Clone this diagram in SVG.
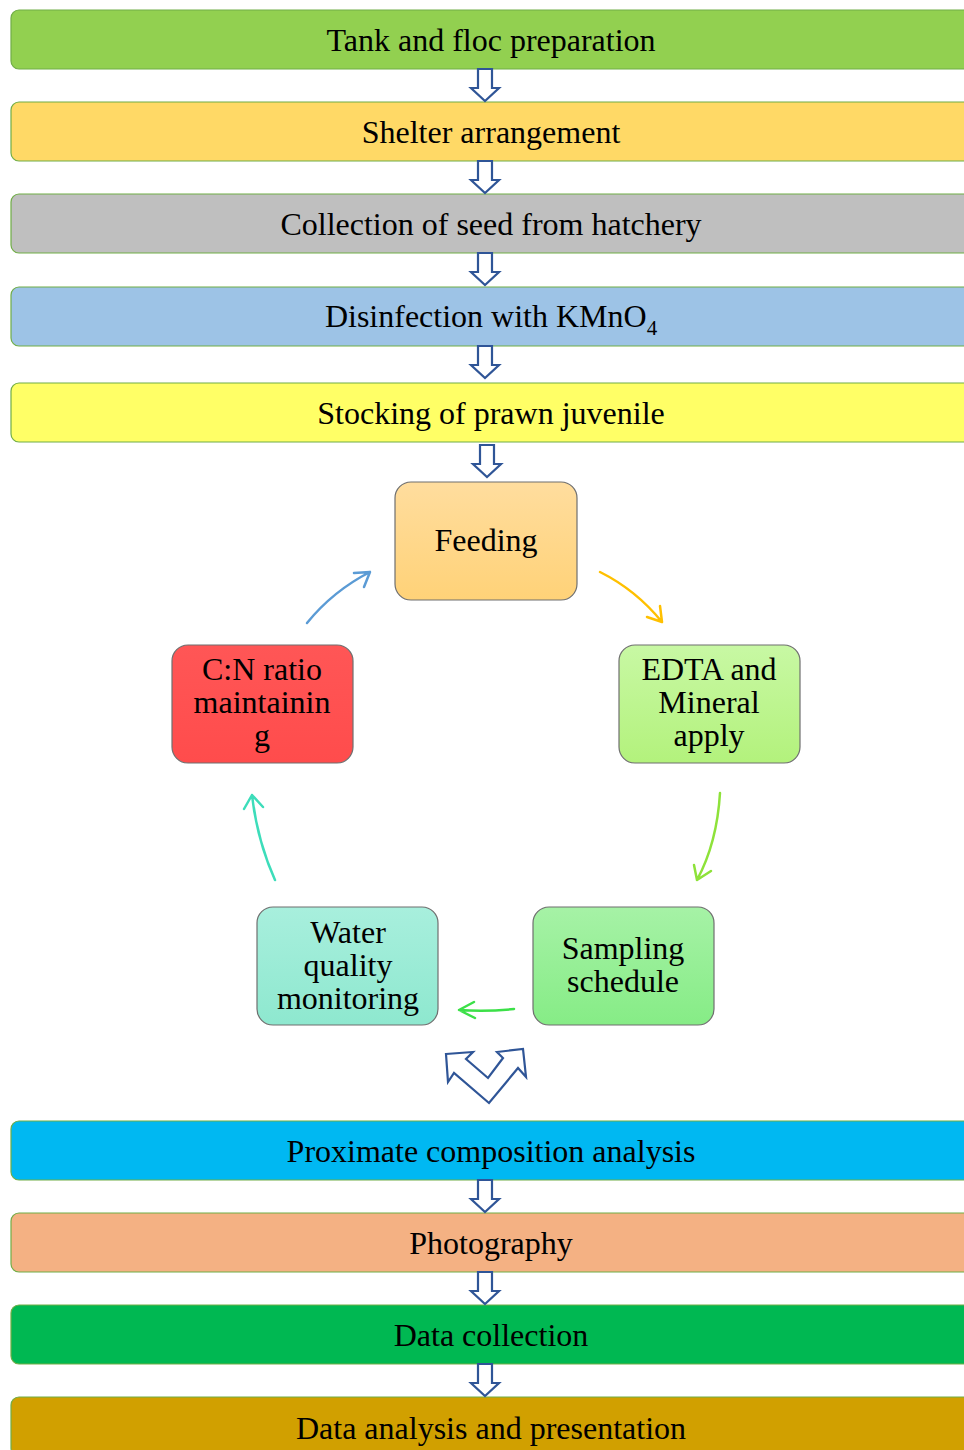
<svg xmlns="http://www.w3.org/2000/svg" width="964" height="1450" viewBox="0 0 964 1450">
<defs>
<style>
.bar{stroke:#70AD47;stroke-width:1.2}
.t{font-family:"Liberation Serif","Times New Roman",serif;font-size:32px;fill:#000;text-anchor:middle}
.box{stroke:#6f6f6f;stroke-width:1.2}
.da{fill:#fff;stroke:#2F5597;stroke-width:2.2;stroke-linejoin:miter}
.cv{fill:none;stroke-width:2.5;stroke-linecap:round;stroke-linejoin:round}
</style>
<linearGradient id="gFeed" x1="0" y1="0" x2="0" y2="1"><stop offset="0" stop-color="#FFDD9E"/><stop offset="1" stop-color="#FFD278"/></linearGradient>
<linearGradient id="gCN" x1="0" y1="0" x2="0" y2="1"><stop offset="0" stop-color="#FF5656"/><stop offset="1" stop-color="#FF4C4C"/></linearGradient>
<linearGradient id="gEDTA" x1="0" y1="0" x2="0" y2="1"><stop offset="0" stop-color="#C8F8A4"/><stop offset="1" stop-color="#B3F27C"/></linearGradient>
<linearGradient id="gWater" x1="0" y1="0" x2="0" y2="1"><stop offset="0" stop-color="#A8EFDD"/><stop offset="1" stop-color="#8EE8CF"/></linearGradient>
<linearGradient id="gSamp" x1="0" y1="0" x2="0" y2="1"><stop offset="0" stop-color="#A6F2A6"/><stop offset="1" stop-color="#86EC86"/></linearGradient>
<path id="dn" d="M-7,0 H7 V19 H14 L0,32 L-14,19 H-7 Z"/>
</defs>

<g id="bar1"><rect class="bar" x="11" y="10" width="970" height="59" rx="8" fill="#92D050"/><text class="t" x="491" y="51">Tank and floc preparation</text></g>
<g id="bar2"><rect class="bar" x="11" y="102" width="970" height="59" rx="8" fill="#FFD966"/><text class="t" x="491" y="143">Shelter arrangement</text></g>
<g id="bar3"><rect class="bar" x="11" y="194" width="970" height="59" rx="8" fill="#BFBFBF"/><text class="t" x="491" y="235">Collection of seed from hatchery</text></g>
<g id="bar4"><rect class="bar" x="11" y="287" width="970" height="59" rx="8" fill="#9DC3E6"/><text class="t" x="491" y="327">Disinfection with KMnO<tspan font-size="21" dy="8">4</tspan></text></g>
<g id="bar5"><rect class="bar" x="11" y="383" width="970" height="59" rx="8" fill="#FFFF66"/><text class="t" x="491" y="424">Stocking of prawn juvenile</text></g>

<g id="feeding"><rect class="box" x="395" y="482" width="182" height="118" rx="16" fill="url(#gFeed)"/><text class="t" x="486" y="551">Feeding</text></g>
<g id="edta"><rect class="box" x="619" y="645" width="181" height="118" rx="16" fill="url(#gEDTA)"/><text class="t" x="709" y="680">EDTA and</text><text class="t" x="709" y="713">Mineral</text><text class="t" x="709" y="746">apply</text></g>
<g id="sampling"><rect class="box" x="533" y="907" width="181" height="118" rx="16" fill="url(#gSamp)"/><text class="t" x="623" y="959">Sampling</text><text class="t" x="623" y="992">schedule</text></g>
<g id="water"><rect class="box" x="257" y="907" width="181" height="118" rx="16" fill="url(#gWater)"/><text class="t" x="348" y="943">Water</text><text class="t" x="348" y="976">quality</text><text class="t" x="348" y="1009">monitoring</text></g>
<g id="cn"><rect class="box" x="172" y="645" width="181" height="118" rx="16" fill="url(#gCN)"/><text class="t" x="262" y="680">C:N ratio</text><text class="t" x="262" y="713">maintainin</text><text class="t" x="262" y="746">g</text></g>

<g id="bar6"><rect class="bar" x="11" y="1121" width="970" height="59" rx="8" fill="#00B8F2"/><text class="t" x="491" y="1162">Proximate composition analysis</text></g>
<g id="bar7"><rect class="bar" x="11" y="1213" width="970" height="59" rx="8" fill="#F4B183"/><text class="t" x="491" y="1254">Photography</text></g>
<g id="bar8"><rect class="bar" x="11" y="1305" width="970" height="59" rx="8" fill="#00B852"/><text class="t" x="491" y="1346">Data collection</text></g>
<g id="bar9"><rect class="bar" x="11" y="1397" width="970" height="59" rx="8" fill="#D1A000"/><text class="t" x="491" y="1439">Data analysis and presentation</text></g>

<g id="connectors">
<use href="#dn" class="da" x="485" y="69"/>
<use href="#dn" class="da" x="485" y="161"/>
<use href="#dn" class="da" x="485" y="253"/>
<use href="#dn" class="da" x="485" y="346"/>
<use href="#dn" class="da" x="487" y="445"/>
<use href="#dn" class="da" x="485" y="1180"/>
<use href="#dn" class="da" x="485" y="1272"/>
<use href="#dn" class="da" x="485" y="1364"/>

<path class="cv" stroke="#5B9BD5" d="M307,623 Q333,591 370,572 M354,573 L370,572 L364,587"/>
<path class="cv" stroke="#FFC000" d="M600,572 Q636,590 662,622 M647,617 L662,622 L660,606"/>
<path class="cv" stroke="#8EE23A" d="M720,793 Q717,843 697,880 M694,865 L697,880 L711,871"/>
<path class="cv" stroke="#3CE048" d="M514,1009 Q486,1012 459,1010 M474,1002 L459,1010 L475,1018"/>
<path class="cv" stroke="#3DDDBA" d="M275,880 Q257,840 252,795 M244,809 L252,795 L263,807"/>

<polygon class="da" stroke-width="3" points="446,1054 473,1052 466,1059 488,1078 503,1058 497,1052 523,1049 526,1077 518,1068 489,1103 454,1073 448,1082"/>
</g>
</svg>
